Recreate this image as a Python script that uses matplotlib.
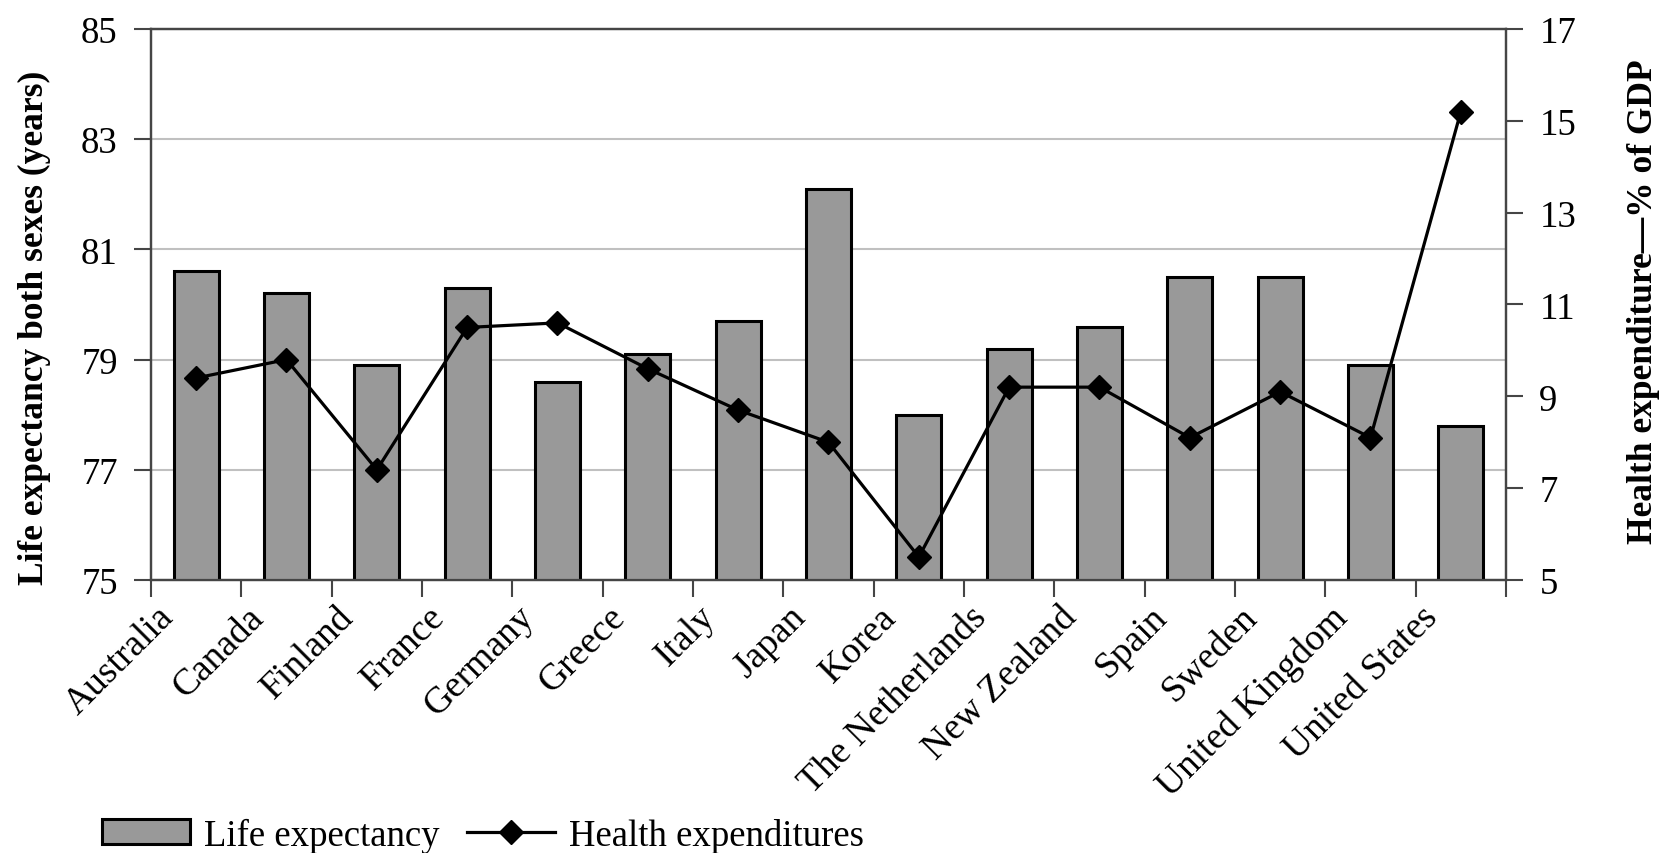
import numpy as np
import matplotlib.pyplot as plt
import matplotlib.transforms as mtransforms
from matplotlib.patches import Patch
from matplotlib.lines import Line2D

plt.rcParams['font.family'] = ['Liberation Serif', 'DejaVu Serif']

countries = ['Australia', 'Canada', 'Finland', 'France', 'Germany', 'Greece', 'Italy',
             'Japan', 'Korea', 'The Netherlands', 'New Zealand', 'Spain', 'Sweden',
             'United Kingdom', 'United States']
life_expectancy = [80.6, 80.2, 78.9, 80.3, 78.6, 79.1, 79.7, 82.1, 78.0, 79.2, 79.6,
                   80.5, 80.5, 78.9, 77.8]
health_expenditure = [9.4, 9.8, 7.4, 10.5, 10.6, 9.6, 8.7, 8.0, 5.5, 9.2, 9.2,
                      8.1, 9.1, 8.1, 15.2]
left_ticks = [75, 77, 79, 81, 83, 85]
right_ticks = [5, 7, 9, 11, 13, 15, 17]

W, H = 1665, 854
BAR_GREY = '#999999'
SPINE = '#454545'
FS = 26.5

fig = plt.figure(figsize=(W / 100, H / 100), dpi=100)
ax = fig.add_axes([151 / W, 1 - 581 / H, (1506 - 151) / W, (581 - 30) / H])

x = np.arange(len(countries))
ax.bar(x, life_expectancy, width=0.5, color=BAR_GREY, edgecolor='black',
       linewidth=2.2, zorder=3)
ax.set_xlim(-0.5, len(countries) - 0.5)
ax.set_ylim(75, 85)
ax.set_yticks(left_ticks)
ax.yaxis.grid(True, color='#c0c0c0', lw=1.5)
ax.set_axisbelow(True)

# category labels at bar centres, tick marks on the category boundaries
ax.set_xticks(x)
ax.set_xticklabels(countries, rotation=45, ha='right', va='top', fontsize=FS + 0.5)
ax.set_xticks(np.arange(-0.5, len(countries)), minor=True)
ax.tick_params(axis='x', which='major', length=0, pad=14)
ax.tick_params(axis='x', which='minor', length=12, width=1.5, color=SPINE)
shift = mtransforms.ScaledTranslation(-0.16, 0, fig.dpi_scale_trans)
for lab in ax.get_xticklabels():
    lab.set_transform(lab.get_transform() + shift)

ax.tick_params(axis='y', length=12, width=1.5, color=SPINE, labelsize=FS, pad=12)
for sp in ax.spines.values():
    sp.set_color(SPINE)
    sp.set_linewidth(1.6)

ax2 = ax.twinx()
ax2.plot(x, health_expenditure, color='black', lw=2.3, marker='D', ms=12.5, zorder=5)
ax2.set_ylim(5, 17)
ax2.set_yticks(right_ticks)
ax2.tick_params(axis='y', length=12, width=1.5, color=SPINE, labelsize=FS, pad=12)
for sp in ax2.spines.values():
    sp.set_color(SPINE)
    sp.set_linewidth(1.6)

fig.text(34 / W, 1 - 328 / H, 'Life expectancy both sexes (years)', rotation=90,
         ha='center', va='center', fontsize=25.5, fontweight='bold')
fig.text(1644 / W, 1 - 302 / H, 'Health expenditure\u2014% of GDP', rotation=90,
         ha='center', va='center', fontsize=25.5, fontweight='bold')

handles = [Patch(facecolor=BAR_GREY, edgecolor='black', lw=2.2, label='Life expectancy'),
           Line2D([], [], color='black', lw=2.3, marker='D', ms=12.5,
                  label='Health expenditures')]
fig.legend(handles=handles, loc='center left', bbox_to_anchor=(102 / W, 1 - 836 / H),
           ncol=2, frameon=False, fontsize=FS, handlelength=2.4, handleheight=0.65,
           handletextpad=0.38, columnspacing=0.73, borderpad=0, borderaxespad=0)

fig.savefig('out.png', dpi=100)
